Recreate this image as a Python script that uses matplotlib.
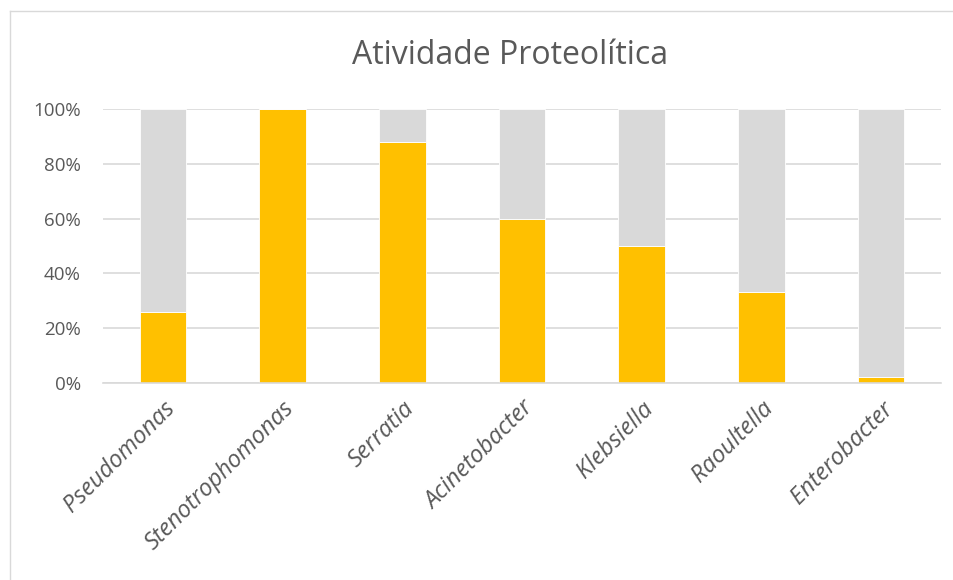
import numpy as np
import matplotlib.pyplot as plt
from matplotlib.lines import Line2D
from matplotlib.ticker import PercentFormatter

genera = ['Pseudomonas', 'Stenotrophomonas', 'Serratia', 'Acinetobacter',
          'Klebsiella', 'Raoultella', 'Enterobacter']
positive = [26, 100, 88, 60, 50, 33, 2]
negative = [100 - p for p in positive]

ORANGE = '#FFC000'
GREY = '#D9D9D9'
TEXT = '#595959'

plt.rcParams['font.family'] = ['Open Sans', 'DejaVu Sans']

fig = plt.figure(figsize=(9.54, 5.80), dpi=100)
ax = fig.add_axes([103 / 954, 1 - 382.7 / 580, 838 / 954, 273.4 / 580])

x = np.arange(len(genera))
ax.bar(x, positive, width=0.39, color=ORANGE, edgecolor='white', linewidth=0.6, zorder=3)
ax.bar(x, negative, width=0.39, bottom=positive, color=GREY, edgecolor='white',
       linewidth=0.6, zorder=3)

ax.set_xlim(-0.5, len(genera) - 0.5)
ax.set_ylim(0, 100)
ax.set_yticks(np.arange(0, 101, 20))
ax.yaxis.set_major_formatter(PercentFormatter(decimals=0))
ax.grid(axis='y', color=GREY, linewidth=1.2, zorder=0)
for s in ['top', 'right', 'left']:
    ax.spines[s].set_visible(False)
ax.spines['bottom'].set_color(GREY)
ax.spines['bottom'].set_linewidth(1.2)
ax.spines['bottom'].set_zorder(4)
ax.tick_params(axis='both', length=0, colors=TEXT, labelsize=13.5)
ax.tick_params(axis='y', pad=16)
ax.tick_params(axis='x', pad=10)
ax.set_xticks(x)
ax.set_xticklabels(genera, rotation=45, ha='right', rotation_mode='anchor',
                   style='italic', fontsize=17)

fig.text(0.535, 0.905, 'Atividade Proteolítica', ha='center', va='center',
         fontsize=23, color=TEXT)

# chart frame
fig.add_artist(Line2D([10 / 954, 10 / 954], [0, 1 - 10.5 / 580],
                      transform=fig.transFigure, color=GREY, linewidth=1))
fig.add_artist(Line2D([10 / 954, 1], [1 - 10.5 / 580, 1 - 10.5 / 580],
                      transform=fig.transFigure, color=GREY, linewidth=1))

fig.savefig('out.png', dpi=100, facecolor='white')
